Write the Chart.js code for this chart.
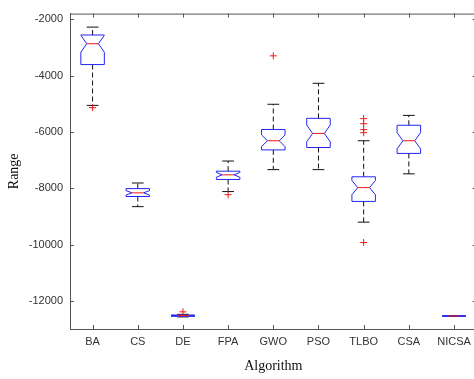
<!DOCTYPE html>
<html>
<head>
<meta charset="utf-8">
<script src="https://cdn.jsdelivr.net/npm/chart.js@4"></script>
<style>
  html, body { margin: 0; padding: 0; background: #fff; overflow: hidden; }
  #wrap { width: 478px; height: 379px; }
</style>
</head>
<body>
<div id="wrap"><canvas id="c" width="478" height="379"></canvas></div>
<script>
// Algorithms compared
const categories = ['BA', 'CS', 'DE', 'FPA', 'GWO', 'PSO', 'TLBO', 'CSA', 'NICSA'];

// Box statistics per algorithm
const whiskerHigh = [-2280, -7815, -12480, -7035, -5020, -4275, -6315, -5415, -12540];
const upperQuartile = [-2560, -8015, -12505, -7395, -5915, -5520, -7595, -5765, -12540];
const median = [-2870, -8165, -12525, -7525, -6315, -6055, -7980, -6315, -12540];
const lowerQuartile = [-3610, -8295, -12550, -7690, -6640, -6555, -8470, -6765, -12540];
const whiskerLow = [-5060, -8655, -12570, -8120, -7340, -7340, -9205, -7490, -12540];

// Outliers per algorithm
const outliers = [
  [-5140], [], [-12390], [-8230], [-3300], [], [-5530, -5710, -5920, -6030, -9930], [], []
];

// Runs per algorithm, used for the notch half-height (median ± 1.57·IQR/√n)
const runs = 30;

// Y axis tick labels
const yTickValues = [-12000, -10000, -8000, -6000, -4000, -2000];

const outlierPoints = [];
categories.forEach((c, i) => outliers[i].forEach(v => outlierPoints.push({ x: c, y: v })));

const BOX_BLUE = '#2424f2';
const MEDIAN_RED = '#f01818';
const AXIS_COLOR = '#555';

const boxPlotPlugin = {
  id: 'boxPlot',
  beforeDatasetsDraw(chart) {
    const { ctx, scales: { x, y } } = chart;
    const step = x.getPixelForValue(1) - x.getPixelForValue(0);
    const half = step * 0.26;
    ctx.save();
    categories.forEach((c, i) => {
      const cx = x.getPixelForValue(i);
      const l = cx - half, r = cx + half;
      const notch = 1.57 * (upperQuartile[i] - lowerQuartile[i]) / Math.sqrt(runs);
      const yQ1 = y.getPixelForValue(lowerQuartile[i]);
      const yQ3 = y.getPixelForValue(upperQuartile[i]);
      const yMed = y.getPixelForValue(median[i]);
      const yNLo = y.getPixelForValue(median[i] - notch);
      const yNHi = y.getPixelForValue(median[i] + notch);
      const yWH = y.getPixelForValue(whiskerHigh[i]);
      const yWL = y.getPixelForValue(whiskerLow[i]);
      const inset = half / 2;

      // whiskers
      ctx.strokeStyle = '#111';
      ctx.lineWidth = 1;
      ctx.setLineDash([5, 3]);
      ctx.beginPath();
      ctx.moveTo(cx, yQ3); ctx.lineTo(cx, yWH);
      ctx.moveTo(cx, yQ1); ctx.lineTo(cx, yWL);
      ctx.stroke();
      ctx.setLineDash([]);
      ctx.beginPath();
      ctx.moveTo(cx - inset, yWH); ctx.lineTo(cx + inset, yWH);
      ctx.moveTo(cx - inset, yWL); ctx.lineTo(cx + inset, yWL);
      ctx.stroke();

      // notched box
      ctx.strokeStyle = BOX_BLUE;
      ctx.beginPath();
      ctx.moveTo(l, yQ1);
      ctx.lineTo(l, yNLo);
      ctx.lineTo(l + inset, yMed);
      ctx.lineTo(l, yNHi);
      ctx.lineTo(l, yQ3);
      ctx.lineTo(r, yQ3);
      ctx.lineTo(r, yNHi);
      ctx.lineTo(r - inset, yMed);
      ctx.lineTo(r, yNLo);
      ctx.lineTo(r, yQ1);
      ctx.closePath();
      ctx.stroke();

      // median
      ctx.strokeStyle = MEDIAN_RED;
      ctx.beginPath();
      ctx.moveTo(l + inset, yMed); ctx.lineTo(r - inset, yMed);
      ctx.stroke();
    });
    ctx.restore();
  },
  afterDraw(chart) {
    const { ctx, chartArea: a, scales: { x, y } } = chart;
    const t = 4;
    ctx.save();
    ctx.strokeStyle = AXIS_COLOR;
    ctx.lineWidth = 1;
    ctx.beginPath();
    // top and right frame
    ctx.moveTo(a.left, a.top + 0.5); ctx.lineTo(a.right, a.top + 0.5);
    ctx.moveTo(a.right - 0.5, a.top); ctx.lineTo(a.right - 0.5, a.bottom);
    // inward ticks
    yTickValues.forEach(v => {
      const py = Math.round(y.getPixelForValue(v)) + 0.5;
      ctx.moveTo(a.left, py); ctx.lineTo(a.left + t, py);
      ctx.moveTo(a.right, py); ctx.lineTo(a.right - t, py);
    });
    categories.forEach((c, i) => {
      const px = Math.round(x.getPixelForValue(i)) + 0.5;
      ctx.moveTo(px, a.bottom); ctx.lineTo(px, a.bottom - t);
      ctx.moveTo(px, a.top); ctx.lineTo(px, a.top + t);
    });
    ctx.stroke();
    ctx.restore();
  }
};

new Chart(document.getElementById('c'), {
  type: 'line',
  data: {
    labels: categories,
    datasets: [{
      data: outlierPoints,
      showLine: false,
      pointStyle: 'cross',
      pointRadius: 3.5,
      pointBorderWidth: 1,
      pointBorderColor: MEDIAN_RED,
      borderColor: MEDIAN_RED
    }]
  },
  options: {
    responsive: false,
    animation: false,
    layout: { autoPadding: false, padding: { top: 10, right: 1.4, left: 0, bottom: 0 } },
    plugins: { legend: { display: false }, tooltip: { enabled: false } },
    scales: {
      x: {
        type: 'category',
        offset: true,
        grid: { display: false, drawTicks: false },
        border: { display: true, color: AXIS_COLOR },
        ticks: {
          color: '#333',
          font: { family: 'Liberation Sans', size: 11 },
          padding: 6,
          maxRotation: 0,
          autoSkip: false
        },
        title: {
          display: true,
          text: 'Algorithm',
          color: '#111',
          font: { family: 'Liberation Serif', size: 14 },
          padding: { top: 4, bottom: 4 }
        },
        afterFit(s) { s.height = 50; }
      },
      y: {
        min: -13000,
        max: -1800,
        grid: { display: false, drawTicks: false },
        border: { display: true, color: AXIS_COLOR },
        afterBuildTicks(s) { s.ticks = yTickValues.map(v => ({ value: v })); },
        ticks: {
          color: '#333',
          font: { family: 'Liberation Sans', size: 11 },
          padding: 7,
          callback: v => String(v)
        },
        title: {
          display: true,
          text: 'Range',
          color: '#111',
          font: { family: 'Liberation Serif', size: 14 },
          padding: { top: 6, bottom: 4 }
        },
        afterFit(s) { s.width = 70; }
      }
    }
  },
  plugins: [boxPlotPlugin]
});
</script>
</body>
</html>
